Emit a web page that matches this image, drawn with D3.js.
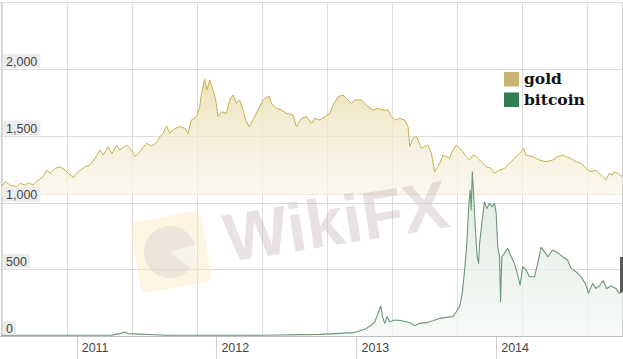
<!DOCTYPE html>
<html><head><meta charset="utf-8">
<script src="https://cdn.jsdelivr.net/npm/d3@7"></script>
<style>
html,body{margin:0;padding:0;background:#fff;}
svg{display:block;}
</style></head>
<body>
<svg id="chart" width="623" height="359"></svg>
<script>
// ---- DATA (time as decimal years) ----
const goldT = [2010.464,2010.488,2010.524,2010.571,2010.595,2010.631,2010.654,2010.690,2010.726,2010.761,2010.786,2010.809,2010.845,2010.881,2010.916,2010.940,2010.976,2011.011,2011.059,2011.095,2011.131,2011.166,2011.190,2011.226,2011.250,2011.286,2011.309,2011.357,2011.393,2011.416,2011.452,2011.500,2011.536,2011.571,2011.595,2011.619,2011.643,2011.666,2011.702,2011.738,2011.774,2011.797,2011.821,2011.857,2011.881,2011.893,2011.916,2011.933,2011.952,2011.976,2011.995,2012.011,2012.036,2012.071,2012.095,2012.119,2012.143,2012.166,2012.190,2012.209,2012.233,2012.261,2012.297,2012.333,2012.376,2012.393,2012.429,2012.464,2012.500,2012.547,2012.571,2012.607,2012.643,2012.679,2012.702,2012.738,2012.774,2012.809,2012.833,2012.869,2012.904,2012.928,2012.964,2012.988,2013.036,2013.059,2013.083,2013.119,2013.154,2013.190,2013.226,2013.250,2013.274,2013.309,2013.345,2013.369,2013.381,2013.404,2013.429,2013.440,2013.464,2013.488,2013.511,2013.536,2013.559,2013.583,2013.607,2013.619,2013.643,2013.666,2013.690,2013.714,2013.738,2013.761,2013.786,2013.809,2013.833,2013.857,2013.893,2013.929,2013.964,2013.988,2014.024,2014.059,2014.083,2014.119,2014.154,2014.179,2014.195,2014.214,2014.261,2014.309,2014.357,2014.404,2014.440,2014.476,2014.500,2014.536,2014.571,2014.607,2014.643,2014.679,2014.714,2014.761,2014.786,2014.809,2014.833,2014.845,2014.869,2014.902];
const goldV = [1120,1157,1132,1120,1145,1132,1150,1132,1170,1195,1245,1220,1257,1270,1245,1220,1190,1232,1270,1282,1332,1395,1357,1420,1365,1432,1395,1432,1395,1345,1382,1445,1425,1450,1495,1520,1575,1520,1557,1570,1557,1520,1620,1645,1720,1820,1927,1845,1920,1845,1770,1645,1682,1670,1770,1807,1745,1770,1695,1620,1570,1620,1695,1770,1800,1745,1707,1695,1670,1657,1570,1632,1645,1595,1632,1620,1645,1670,1732,1795,1807,1782,1745,1770,1770,1745,1720,1695,1707,1695,1695,1645,1620,1632,1620,1570,1420,1482,1495,1470,1407,1420,1432,1370,1232,1270,1320,1357,1345,1332,1395,1432,1407,1382,1345,1320,1357,1345,1307,1270,1257,1220,1245,1257,1282,1320,1357,1382,1407,1357,1345,1320,1307,1320,1345,1357,1345,1332,1307,1295,1257,1232,1245,1195,1170,1220,1207,1232,1220,1195];

const btcT = [2010.464,2010.738,2011.000,2011.095,2011.202,2011.252,2011.274,2011.309,2011.345,2011.366,2011.452,2011.524,2011.631,2011.809,2012.024,2012.238,2012.452,2012.595,2012.738,2012.881,2012.976,2013.024,2013.071,2013.107,2013.131,2013.154,2013.174,2013.186,2013.202,2013.219,2013.238,2013.274,2013.321,2013.357,2013.393,2013.416,2013.452,2013.500,2013.547,2013.595,2013.643,2013.690,2013.714,2013.738,2013.757,2013.774,2013.790,2013.804,2013.814,2013.821,2013.829,2013.838,2013.850,2013.864,2013.874,2013.881,2013.897,2013.916,2013.933,2013.952,2013.971,2013.988,2014.000,2014.011,2014.024,2014.031,2014.040,2014.059,2014.083,2014.107,2014.131,2014.154,2014.171,2014.190,2014.214,2014.238,2014.274,2014.297,2014.321,2014.345,2014.369,2014.404,2014.440,2014.476,2014.511,2014.536,2014.571,2014.607,2014.638,2014.661,2014.690,2014.714,2014.738,2014.766,2014.790,2014.821,2014.857,2014.881,2014.902];
const btcV = [0.07,0.2,0.3,0.9,1.5,5,12,18,30,18,14,11,6,3,5,5,7,10,12.5,20,25,40,57,82,107,170,225,145,95,145,107,120,115,107,95,77,95,100,115,132,140,145,182,220,320,495,695,995,1095,945,1232,1070,820,595,545,695,845,1007,957,995,970,995,920,670,595,257,595,620,657,595,545,457,382,520,495,445,445,545,665,632,595,645,625,595,570,507,482,445,395,320,395,357,375,415,357,375,357,320,332];

const goldTicks = [1000, 1500, 2000];
const btcTicks = [0, 500];
const seriesNames = ["gold", "bitcoin"];
const seriesColors = ["#c9b274", "#2f7f52"];

// ---- helpers ----
function decYear(t){
  const y = Math.floor(t);
  const s = new Date(y,0,1), e = new Date(y+1,0,1);
  return new Date(+s + (t - y) * (e - s));
}

const W = 623, H = 359;
const svg = d3.select("#chart");
svg.append("rect").attr("width",W).attr("height",H).attr("fill","#fff");

// x scale: calibrated on year ticks
const xCal = d3.scaleTime().domain([new Date(2011,0,1), new Date(2014,0,1)]).range([76.7, 496.2]);
const x = d3.scaleTime().domain([xCal.invert(1.7), xCal.invert(623)]).range([1.7, 623]);

const yGold = d3.scaleLinear().domain([1000, 2000]).range([202.7, 69.3]);
const yBtc = d3.scaleLinear().domain([0, 1000]).range([336, 202.7]);

const gold = goldT.map((t,i)=>({d:decYear(t), v:goldV[i]}));
const btc = btcT.map((t,i)=>({d:decYear(t), v:btcV[i]}));

const defs = svg.append("defs");
const gg = defs.append("linearGradient").attr("id","gGold").attr("gradientUnits","userSpaceOnUse")
  .attr("x1",0).attr("x2",0).attr("y1",75).attr("y2",194);
gg.append("stop").attr("offset",0).attr("stop-color","#e8d9a4").attr("stop-opacity",0.8);
gg.append("stop").attr("offset",0.55).attr("stop-color","#f3ecd2").attr("stop-opacity",0.75);
gg.append("stop").attr("offset",1).attr("stop-color","#f9f6e8").attr("stop-opacity",0.75);
const gb = defs.append("linearGradient").attr("id","gBtc").attr("gradientUnits","userSpaceOnUse")
  .attr("x1",0).attr("x2",0).attr("y1",171).attr("y2",336);
gb.append("stop").attr("offset",0).attr("stop-color","#d9e6dc").attr("stop-opacity",0.85);
gb.append("stop").attr("offset",1).attr("stop-color","#f3f7f3").attr("stop-opacity",0.7);

// gridlines
const vgrid = d3.range(1.7, 623, 65);
svg.append("g").selectAll("line").data(vgrid).join("line")
  .attr("x1",d=>Math.round(d)+0.5).attr("x2",d=>Math.round(d)+0.5)
  .attr("y1",2).attr("y2",336)
  .attr("stroke","#dedede").attr("stroke-width",1);
const hLines = goldTicks.filter(v=>v>1000).map(v=>yGold(v)).concat(btcTicks.map(v=>yBtc(v)), [yBtc(1000)]);
svg.append("g").selectAll("line").data(hLines).join("line")
  .attr("x1",0).attr("x2",622)
  .attr("y1",d=>Math.round(d)+0.5).attr("y2",d=>Math.round(d)+0.5)
  .attr("stroke","#dcdcdc");
svg.append("line").attr("x1",0).attr("x2",622).attr("y1",2.5).attr("y2",2.5).attr("stroke","#dedede");
svg.append("line").attr("x1",1.5).attr("x2",1.5).attr("y1",2).attr("y2",337).attr("stroke","#cfcfcf");
svg.append("line").attr("x1",622.5).attr("x2",622.5).attr("y1",2).attr("y2",337).attr("stroke","#cfcfcf");

// gold area
const goldBottom = 194;
svg.append("path").datum(gold)
  .attr("d", d3.area().x(d=>x(d.d)).y0(goldBottom).y1(d=>yGold(d.v)))
  .attr("fill","url(#gGold)");
svg.append("line").attr("x1",0).attr("x2",622).attr("y1",goldBottom+0.5).attr("y2",goldBottom+0.5)
  .attr("stroke","#efe9d2");
svg.append("path").datum(gold)
  .attr("d", d3.line().x(d=>x(d.d)).y(d=>yGold(d.v)))
  .attr("fill","none").attr("stroke","#c8b04e").attr("stroke-width",1).attr("stroke-linejoin","round");

// bitcoin area
svg.append("path").datum(btc)
  .attr("d", d3.area().x(d=>x(d.d)).y0(336).y1(d=>yBtc(d.v)))
  .attr("fill","url(#gBtc)");
svg.append("path").datum(btc)
  .attr("d", d3.line().x(d=>x(d.d)).y(d=>Math.min(yBtc(d.v), 335.2)))
  .attr("fill","none").attr("stroke","#6c977a").attr("stroke-width",1.1).attr("stroke-linejoin","round");

// x axis
svg.append("line").attr("x1",0).attr("x2",623).attr("y1",336.5).attr("y2",336.5).attr("stroke","#b9c4bb");
const years = x.ticks(d3.timeYear.every(1));
const ax = svg.append("g");
ax.selectAll("line").data(years).join("line")
  .attr("x1",d=>Math.round(x(d))+0.5).attr("x2",d=>Math.round(x(d))+0.5)
  .attr("y1",337).attr("y2",359).attr("stroke","#d0d0d0");
ax.selectAll("text").data(years).join("text")
  .attr("x",d=>x(d)+5).attr("y",352)
  .attr("font-family","Liberation Sans, Arial, sans-serif").attr("font-size",12.5)
  .attr("fill","#444").text(d3.timeFormat("%Y"));

// y labels with boxes
const fmt = d3.format(",");
const ylab = goldTicks.map(v=>({v, y:yGold(v)})).concat(btcTicks.map(v=>({v, y:yBtc(v)})));
const lg = svg.append("g");
ylab.forEach(l=>{
  const g = lg.append("g");
  const r = g.append("rect");
  const t = g.append("text").attr("x",6).attr("y",l.y-3.5)
    .attr("font-family","Liberation Sans, Arial, sans-serif").attr("font-size",12.5)
    .attr("fill","#444").text(fmt(l.v));
  const bb = t.node().getBBox();
  r.attr("x",3).attr("y",l.y-15.5).attr("width",bb.width+6).attr("height",14.5).attr("fill","#ececec");
});

// right edge marker
svg.append("rect").attr("x",620).attr("y",257).attr("width",3).attr("height",35).attr("fill","#5a5a5a");

// legend
const leg = svg.append("g");
seriesNames.forEach((n,i)=>{
  leg.append("rect").attr("x",504).attr("y",72+i*20.5).attr("width",15).attr("height",14.5).attr("fill",seriesColors[i]);
  leg.append("text").attr("x",524).attr("y",83.5+i*21)
    .attr("font-family","DejaVu Serif, serif").attr("font-weight","bold").attr("font-size",15.5)
    .attr("fill","#111").text(n);
});

// watermark
const wm = svg.append("g").attr("pointer-events","none");
wm.append("rect").attr("x",-36).attr("y",-36).attr("width",72).attr("height",72).attr("rx",8)
  .attr("fill","#fbe9bf").attr("opacity",0.45)
  .attr("transform","translate(171,252) rotate(-10)");
wm.append("circle").attr("cx",170).attr("cy",252).attr("r",26).attr("fill","#cfc9c9").attr("opacity",0.35);
wm.append("path").attr("d","M170,252 L196,244 A26,26 0 0 1 190,268 Z").attr("fill","#fff").attr("opacity",0.5);
wm.append("text").attr("transform","translate(228,262) rotate(-9)")
  .attr("font-family","Liberation Sans, Arial, sans-serif").attr("font-weight","bold").attr("font-size",68)
  .attr("fill","#c4b4b4").attr("opacity",0.38).text("WikiFX");
</script>
</body></html>
